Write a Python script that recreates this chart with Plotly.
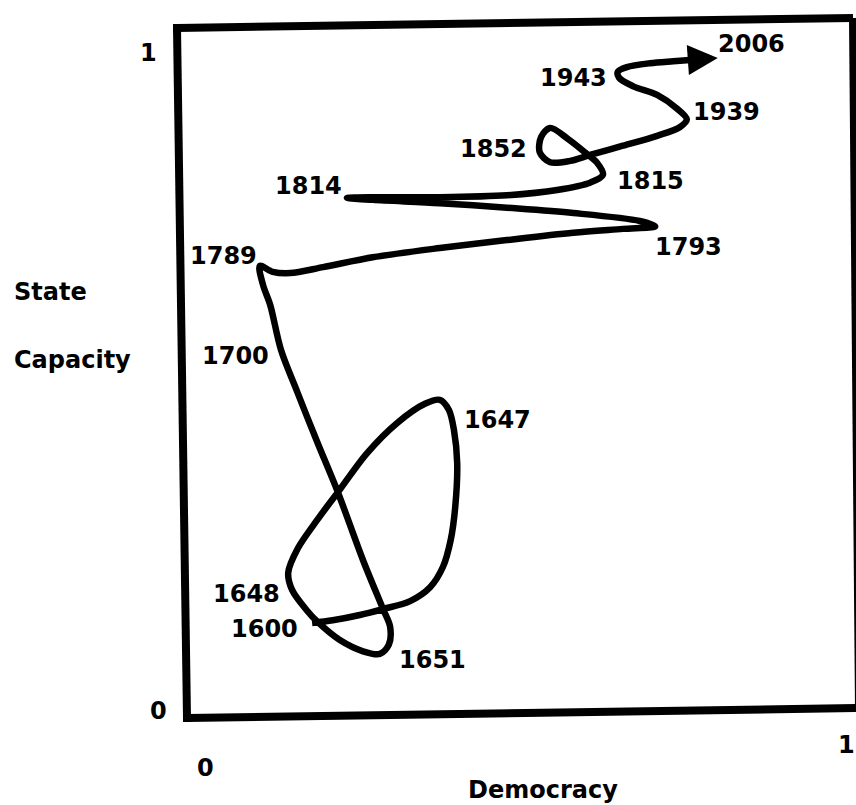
import plotly.graph_objects as go

# Path of France: democracy (x) vs state capacity (y), in time order
democracy = [0.166, 0.198, 0.240, 0.276, 0.318, 0.349, 0.369, 0.381, 0.388, 0.391, 0.386, 0.378, 0.364,
             0.341, 0.298, 0.251, 0.206, 0.174, 0.144, 0.129, 0.135, 0.157, 0.175, 0.209, 0.245, 0.271,
             0.285, 0.287, 0.276, 0.245, 0.206, 0.174, 0.143, 0.118, 0.101, 0.090, 0.085,
             0.105, 0.132, 0.183, 0.260, 0.364, 0.468, 0.571, 0.648, 0.698,
             0.674, 0.571, 0.468, 0.364, 0.260, 0.220,
             0.260, 0.364, 0.468, 0.546, 0.597, 0.617,
             0.608, 0.589, 0.563, 0.535, 0.521, 0.519, 0.535, 0.566, 0.597, 0.648, 0.701, 0.736, 0.747,
             0.732, 0.701, 0.664, 0.642, 0.640, 0.654, 0.690, 0.726, 0.752]
capacity = [0.135, 0.139, 0.147, 0.156, 0.168, 0.189, 0.220, 0.261, 0.311, 0.377, 0.427, 0.458, 0.473,
            0.467, 0.438, 0.392, 0.333, 0.291, 0.248, 0.211, 0.185, 0.155, 0.136, 0.109, 0.092, 0.088,
            0.102, 0.129, 0.156, 0.230, 0.333, 0.409, 0.485, 0.548, 0.617, 0.647, 0.676,
            0.667, 0.665, 0.674, 0.689, 0.703, 0.715, 0.726, 0.732, 0.736,
            0.744, 0.756, 0.764, 0.771, 0.776, 0.779,
            0.780, 0.780, 0.783, 0.791, 0.802, 0.814,
            0.832, 0.848, 0.868, 0.885, 0.871, 0.848, 0.833, 0.835, 0.844, 0.858, 0.873, 0.886, 0.898,
            0.914, 0.935, 0.948, 0.961, 0.970, 0.977, 0.983, 0.986, 0.988]
arrow_tip = (0.795, 0.991)  # 2006

year_labels = ["2006", "1943", "1939", "1852", "1815", "1814", "1793", "1789", "1700",
               "1647", "1648", "1600", "1651"]
label_x = [0.848, 0.572, 0.808, 0.447, 0.691, 0.160, 0.749, 0.028, 0.048, 0.453, 0.065, 0.093, 0.352]
label_y = [1.012, 0.961, 0.909, 0.853, 0.805, 0.797, 0.705, 0.691, 0.539, 0.442, 0.179, 0.126, 0.079]

x_title = "Democracy"
y_title = ["State", "Capacity"]

W, H = 856, 805
# pixel -> data mapping of the original (x: 0 at px 205, 1 at px 850; y: 0 at px 712, 1 at px 52)
X0, XS = 205, 645
Y0, YS = 712, 660

def dx(px):
    return (px - X0) / XS

def dy(py):
    return (Y0 - py) / YS

FONT = dict(family="DejaVu Sans", size=24, color="black", weight="bold")

fig = go.Figure()
fig.add_trace(go.Scatter(
    x=democracy, y=capacity, mode="lines",
    line=dict(color="black", width=6.5, shape="spline", smoothing=0.9),
    hoverinfo="skip", showlegend=False,
))

annotations = []
for t, x, y in zip(year_labels, label_x, label_y):
    annotations.append(dict(x=x, y=y, xref="x", yref="y", text=t, showarrow=False,
                            font=FONT, xanchor="center", yanchor="middle"))

# arrow head at 2006
annotations.append(dict(x=arrow_tip[0], y=arrow_tip[1], ax=democracy[-1], ay=capacity[-1],
                        xref="x", yref="y", axref="x", ayref="y", text="", showarrow=True,
                        arrowhead=2, arrowwidth=6, arrowsize=1, arrowcolor="black", standoff=0))

# axis tick labels
annotations += [
    dict(x=0, y=dy(768), xref="x", yref="y", text="0", showarrow=False, font=FONT),
    dict(x=dx(846), y=dy(745), xref="x", yref="y", text="1", showarrow=False, font=FONT),
    dict(x=dx(148), y=dy(53), xref="x", yref="y", text="1", showarrow=False, font=FONT),
    dict(x=dx(158), y=dy(711), xref="x", yref="y", text="0", showarrow=False, font=FONT),
]
# axis titles
annotations += [
    dict(x=dx(543), y=dy(790), xref="x", yref="y", text=x_title, showarrow=False, font=FONT),
    dict(x=dx(12), y=dy(292), xref="x", yref="y", text=y_title[0], showarrow=False, font=FONT,
         xanchor="left"),
    dict(x=dx(12), y=dy(360), xref="x", yref="y", text=y_title[1], showarrow=False, font=FONT,
         xanchor="left"),
]

# hand-drawn frame (slightly tilted)
corners = [(177, 28), (853, 18), (859, 708), (187, 718)]
shapes = []
for i in range(4):
    (x1, y1), (x2, y2) = corners[i], corners[(i + 1) % 4]
    shapes.append(dict(type="line", xref="x", yref="y", x0=dx(x1), y0=dy(y1), x1=dx(x2), y1=dy(y2),
                       line=dict(color="black", width=8)))
shapes.append(dict(type="rect", xref="x", yref="y", x0=dx(173), y0=dy(32), x1=dx(181), y1=dy(24),
                   fillcolor="black", line=dict(width=0)))
shapes.append(dict(type="rect", xref="x", yref="y", x0=dx(183), y0=dy(722), x1=dx(191), y1=dy(714),
                   fillcolor="black", line=dict(width=0)))

fig.update_layout(
    width=W, height=H,
    margin=dict(l=0, r=0, t=0, b=0),
    paper_bgcolor="white", plot_bgcolor="white",
    xaxis=dict(range=[dx(0), dx(W)], visible=False, fixedrange=True),
    yaxis=dict(range=[dy(H), dy(0)], visible=False, fixedrange=True),
    annotations=annotations, shapes=shapes,
    showlegend=False,
)

fig.write_html("out.html", config={"displayModeBar": False},
               post_script="document.body.style.margin='0';document.body.style.overflow='hidden';")
